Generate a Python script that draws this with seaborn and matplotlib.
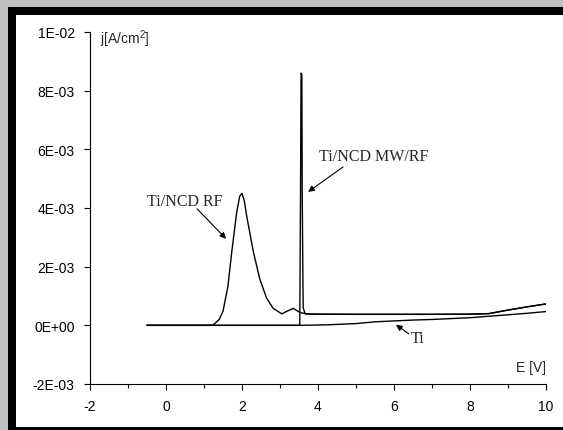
import matplotlib
matplotlib.use("Agg")
import matplotlib.pyplot as plt
from matplotlib.patches import Rectangle
import seaborn as sns
import pandas as pd

# Ti
ti_E = [-0.5, 0, 1, 2, 3, 3.5, 4.0, 4.3, 5.0, 5.5, 6.0, 6.5, 7.0, 7.5, 8.0, 8.5, 9.0, 9.5, 10.0]
ti_j = [0, 0, 0, 0, 0, 0, 1e-5, 2e-5, 6e-5, 1.2e-4, 1.5e-4, 1.8e-4, 2.0e-4, 2.3e-4, 2.6e-4,
        3.1e-4, 3.6e-4, 4.1e-4, 4.7e-4]

# Ti/NCD RF
rf_E = [-0.5, 0.5, 1.1, 1.24, 1.4, 1.5, 1.63, 1.73, 1.86, 1.94, 2.0, 2.06, 2.12, 2.3, 2.47,
        2.65, 2.82, 3.05, 3.18, 3.35, 3.47, 3.55, 3.7, 4, 5, 6, 7, 8, 8.5, 9, 9.5, 10]
rf_j = [0, 0, 0, 1e-5, 2e-4, 4.8e-4, 1.33e-3, 2.5e-3, 3.85e-3, 4.4e-3, 4.5e-3, 4.25e-3, 3.75e-3,
        2.5e-3, 1.57e-3, 9.2e-4, 5.8e-4, 3.9e-4, 4.8e-4, 5.8e-4, 4.8e-4, 4.3e-4, 3.9e-4, 3.8e-4,
        3.75e-4, 3.75e-4, 3.75e-4, 3.8e-4, 4.0e-4, 5.2e-4, 6.3e-4, 7.3e-4]

# Ti/NCD MW/RF
mw_E = [-0.5, 1, 2, 3, 3.52, 3.54, 3.555, 3.575, 3.585, 3.6, 3.61, 3.66, 3.8, 4, 5, 6, 7, 8,
        8.5, 9, 9.5, 10]
mw_j = [0, 0, 0, 0, 0, 4.5e-3, 8.6e-3, 8.55e-3, 4.5e-3, 2e-3, 6e-4, 4.0e-4, 3.85e-4, 3.8e-4,
        3.75e-4, 3.75e-4, 3.75e-4, 3.8e-4, 4.0e-4, 5.2e-4, 6.3e-4, 7.3e-4]

x_ticks = [-2, 0, 2, 4, 6, 8, 10]
x_minor = [-1, 1, 3, 5, 7, 9]
y_ticks = [-2e-3, 0, 2e-3, 4e-3, 6e-3, 8e-3, 1e-2]
y_labels = ['-2E-03', '0E+00', '2E-03', '4E-03', '6E-03', '8E-03', '1E-02']

sns.set_style("white")
plt.rcParams['font.family'] = ['Liberation Sans', 'DejaVu Sans']
plt.rcParams['mathtext.default'] = 'regular'
plt.rcParams['axes.unicode_minus'] = False

fig = plt.figure(figsize=(5.63, 4.31), dpi=100, facecolor='#c0c0c0')
# frame: black border + white panel (behind the axes)
fig.patches.append(Rectangle((8 / 563, 0), 1, 1 - 8 / 431, transform=fig.transFigure,
                             facecolor='black', edgecolor='none', zorder=-2))
fig.patches.append(Rectangle((16 / 563, 3 / 431), 1, 1 - 19 / 431, transform=fig.transFigure,
                             facecolor='white', edgecolor='none', zorder=-1))

ax = fig.add_axes([90 / 563, 1 - 385 / 431, 456 / 563, 352 / 431])
ax.patch.set_alpha(0)

df_ti = pd.DataFrame({'E': ti_E, 'j': ti_j})
df_rf = pd.DataFrame({'E': rf_E, 'j': rf_j})
df_mw = pd.DataFrame({'E': mw_E, 'j': mw_j})

for d in (df_ti, df_rf, df_mw):
    sns.lineplot(data=d, x='E', y='j', ax=ax, color='black', linewidth=1.0,
                 sort=False, estimator=None)

ax.set_xlim(-2, 10)
ax.set_ylim(-2e-3, 1e-2)
ax.set_xticks(x_ticks)
ax.set_xticks(x_minor, minor=True)
ax.set_yticks(y_ticks)
ax.set_yticklabels(y_labels)
ax.set_xlabel('')
ax.set_ylabel('')

for s in ('top', 'right'):
    ax.spines[s].set_visible(False)
for s in ('left', 'bottom'):
    ax.spines[s].set_color('black')
    ax.spines[s].set_linewidth(0.8)

ax.tick_params(axis='both', which='major', direction='out', length=4, width=0.8,
               color='black', labelsize=10, pad=7, labelcolor='black')
ax.tick_params(axis='x', which='both', bottom=True)
ax.tick_params(axis='x', which='minor', direction='out', length=3, width=0.8,
               color='black')
ax.tick_params(axis='y', which='major', left=True)

ax.text(-1.75, 9.78e-3, 'j[A/cm$^2$]', fontsize=10, ha='left', va='center')
ax.text(10, -1.41e-3, 'E [V]', fontsize=10, ha='right', va='center')

serif = ['Liberation Serif', 'DejaVu Serif']
arrow = dict(arrowstyle='-|>', color='black', lw=0.8, mutation_scale=9, shrinkA=0, shrinkB=0)
ax.text(0.5, 4.25e-3, 'Ti/NCD RF', family=serif, fontsize=11.5, ha='center', va='center')
ax.annotate('', xy=(1.58, 2.95e-3), xytext=(0.82, 3.97e-3), arrowprops=arrow)
ax.text(5.47, 5.78e-3, 'Ti/NCD MW/RF', family=serif, fontsize=11.5, ha='center', va='center')
ax.annotate('', xy=(3.74, 4.55e-3), xytext=(4.66, 5.4e-3), arrowprops=arrow)
ax.text(6.63, -4.2e-4, 'Ti', family=serif, fontsize=11.5, ha='center', va='center')
ax.annotate('', xy=(6.05, 0.2e-4), xytext=(6.39, -2.9e-4), arrowprops=arrow)

fig.savefig('out.png', dpi=100, facecolor=fig.get_facecolor())
